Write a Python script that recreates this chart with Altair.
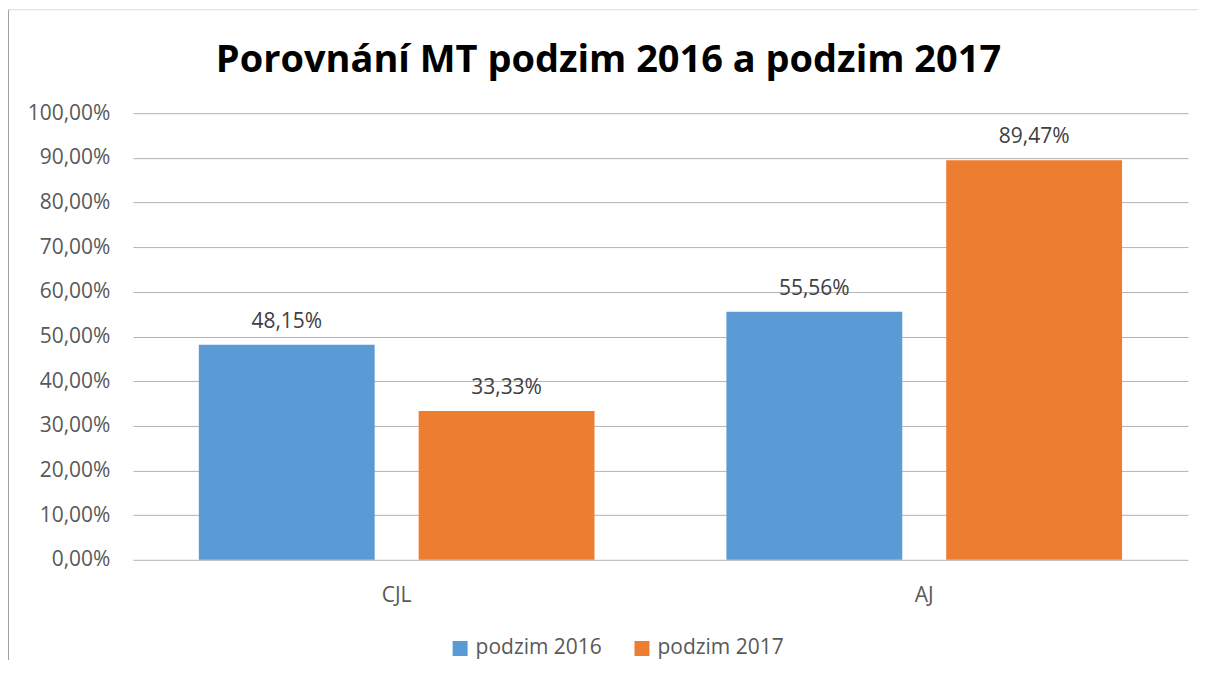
import altair as alt
import pandas as pd

categories = ["CJL", "AJ"]
series = ["podzim 2016", "podzim 2017"]
values_2016 = [0.4815, 0.5556]
values_2017 = [0.3333, 0.8947]
tick_values = [0.0, 0.1, 0.2, 0.3, 0.4, 0.5, 0.6, 0.7, 0.8, 0.9, 1.0]
colors = ["#5B9BD5", "#ED7D31"]
title_text = "Porovnání MT podzim 2016 a podzim 2017"

rows = []
for i, c in enumerate(categories):
    rows.append({"kategorie": c, "serie": series[0], "hodnota": values_2016[i]})
    rows.append({"kategorie": c, "serie": series[1], "hodnota": values_2017[i]})
df = pd.DataFrame(rows)

FONT = "Open Sans"

x_enc = alt.X(
    "kategorie:N",
    sort=categories,
    scale=alt.Scale(paddingInner=0, paddingOuter=0),
    axis=alt.Axis(
        title=None, labelAngle=0, ticks=False, tickSize=0, domain=False,
        labelFontSize=21, labelFont=FONT, labelColor="#595959",
        labelPadding=42, labelBaseline="alphabetic", grid=False,
    ),
)
xoff_enc = alt.XOffset(
    "serie:N", sort=series, scale=alt.Scale(paddingInner=0.2, paddingOuter=0.3)
)
y_enc = alt.Y(
    "hodnota:Q",
    scale=alt.Scale(domain=[0, 1]),
    axis=alt.Axis(
        title=None, values=tick_values, ticks=False, tickSize=0, domain=False,
        grid=True, gridColor="#b3b3b3", gridWidth=1,
        labelExpr="replace(format(datum.value, '.2%'), '.', ',')",
        labelFontSize=21, labelFont=FONT, labelColor="#595959", labelPadding=23,
    ),
)

base = alt.Chart(df)

bars = base.mark_bar().encode(
    x=x_enc,
    xOffset=xoff_enc,
    y=y_enc,
    color=alt.Color(
        "serie:N",
        scale=alt.Scale(domain=series, range=colors),
        legend=alt.Legend(
            title=None, orient="none", direction="horizontal",
            legendX=317, legendY=525,
            symbolType="square", symbolSize=225, symbolStrokeWidth=0,
            labelFontSize=21, labelFont=FONT, labelColor="#595959",
            labelOffset=5, columnPadding=29,
        ),
    ),
)

labels = base.transform_calculate(
    label="replace(format(datum.hodnota, '.2%'), '.', ',')"
).mark_text(
    fontSize=21, font=FONT, color="#404040", baseline="alphabetic", dy=-17
).encode(
    x=alt.X("kategorie:N", sort=categories),
    xOffset=alt.XOffset("serie:N", sort=series),
    y=alt.Y("hodnota:Q"),
    text="label:N",
)

frame_df = pd.DataFrame({"a": [0]})
left_line = alt.Chart(frame_df).mark_rule(color="#a0a0a0", strokeWidth=1).encode(
    x=alt.value(-124.5), y=alt.value(-104), y2=alt.value(550)
)
top_line = alt.Chart(frame_df).mark_rule(color="#d9d9d9", strokeWidth=1).encode(
    x=alt.value(-125), x2=alt.value(1066), y=alt.value(-103.5)
)

chart = alt.layer(bars, labels, left_line, top_line).properties(
    width=1056,
    height=447,
    padding={"left": 125, "top": 105, "right": 10, "bottom": 100},
    autosize=alt.AutoSizeParams(type="none"),
    title=alt.TitleParams(
        text=title_text, font=FONT, fontSize=38, fontWeight="bold",
        color="#000000", anchor="middle", dx=-52, dy=101, offset=0,
        baseline="alphabetic", frame="group",
    ),
).configure_view(stroke=None)

chart.save("out.html", embed_options={"renderer": "svg", "actions": False})
